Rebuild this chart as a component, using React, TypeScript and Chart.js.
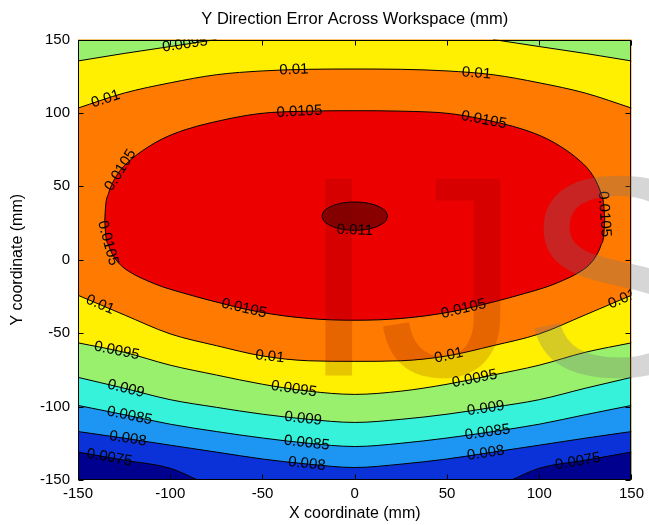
import React, { useEffect, useRef } from 'react';
import { Chart, registerables } from 'chart.js';

Chart.register(...registerables);

// ---------- text ----------
const CHART_TITLE = 'Y Direction Error Across Workspace (mm)';
const X_TITLE = 'X coordinate (mm)';
const Y_TITLE = 'Y coordinate (mm)';
const AXIS_MIN = -150;
const AXIS_MAX = 150;
const TICK_STEP = 50;

// ---------- band colours (jet), lowest band to highest ----------
const COLOR_BELOW_0075 = '#00008F';
const COLOR_0075_0080 = '#0A32D8';
const COLOR_0080_0085 = '#1C96F2';
const COLOR_0085_0090 = '#36F2DA';
const COLOR_0090_0095 = '#98F06C';
const COLOR_0095_0100 = '#FFEF00';
const COLOR_0100_0105 = '#FF7A00';
const COLOR_0105_0110 = '#EC0000';
const COLOR_ABOVE_0110 = '#880000';

// ---------- contour lines (x, y in mm) ----------
const X_GRID = [-150, -125, -100, -75, -50, -25, 0, 25, 50, 75, 100, 125, 150];
const Y_TOP_0100 = [103.3, 113.5, 120.5, 126, 128.6, 129.7, 129.9, 129.7, 128.6, 126, 120.5, 113.5, 103.3];
const Y_TOP_0095 = [135.4, 140.5, 145.2, 150, null, null, null, null, null, 150, 145.2, 140.5, 135.4];
const Y_BOT_0100 = [-24.2, -37.5, -50.5, -58.5, -65.5, -68.8, -69.2, -68.8, -65.5, -58.5, -50.5, -37.5, -24.2];
const Y_BOT_0095 = [-56.6, -63, -71.8, -78.5, -84.8, -89.5, -91.7, -89.5, -84.8, -78.5, -71.8, -63, -56.6];
const Y_BOT_0090 = [-80.1, -87.5, -95.3, -100.5, -105.2, -108.7, -110.8, -108.7, -105.2, -100.5, -95.3, -87.5, -80.1];
const Y_BOT_0085 = [-99.2, -105.5, -112, -117, -121.4, -125, -127.2, -125, -121.4, -117, -112, -105.5, -99.2];
const Y_BOT_0080 = [-117, -121.5, -126.3, -131, -135.7, -139.2, -141.5, -139.2, -135.7, -131, -126.3, -121.5, -117];
const X_0075 = [-150, -125, -100, -85, 0, 85, 100, 125, 150];
const Y_0075 = [-131, -136.5, -142, -150, null, -150, -142, -136.5, -131];

const X_E0105 = [-135.5, -135, -133.5, -131, -127, -121, -113, -104, -92, -79, -52, -25, 0, 25, 52, 79, 92, 104, 113, 121, 127, 131, 133.5, 135, 135.5];
const Y_E0105_TOP = [27, 37, 45, 53, 61, 68.5, 76, 82.5, 88.5, 93, 99.5, 101.2, 101.5, 101.2, 99.5, 93, 88.5, 82.5, 76, 68.5, 61, 53, 45, 37, 27];
const Y_E0105_BOT = [27, 17, 10, 3, -3.5, -9, -14, -18.5, -23, -27.5, -35.5, -40, -41.2, -40, -35.5, -27.5, -23, -18.5, -14, -9, -3.5, 3, 10, 17, 27];

const X_E0110 = [-17.8, -17, -15, -12, -8, -4, 0, 4, 8, 12, 15, 17, 17.8];
const Y_E0110_TOP = [29.7, 32.5, 34.8, 36.8, 38.3, 39.1, 39.3, 39.1, 38.3, 36.8, 34.8, 32.5, 29.7];
const Y_E0110_BOT = [29.7, 26.9, 24.6, 22.6, 21.1, 20.3, 20.1, 20.3, 21.1, 22.6, 24.6, 26.9, 29.7];

// ---------- contour labels: which line, and x (mm) where the label sits ----------
const LABEL_CURVES = [
  'top0095',
  'top0100', 'top0100', 'top0100',
  'e0105top', 'e0105top', 'e0105top', 'e0105top',
  'e0105bot', 'e0105bot', 'e0105bot',
  'e0110bot',
  'bot0100', 'bot0100', 'bot0100', 'bot0100',
  'bot0095', 'bot0095', 'bot0095',
  'bot0090', 'bot0090', 'bot0090',
  'bot0085', 'bot0085', 'bot0085',
  'bot0080', 'bot0080', 'bot0080',
  'c0075', 'c0075',
];
const LABEL_XS = [
  -92,
  -135, -33, 66,
  -30, 70, -127, 135.3,
  -133.8, -60, 59,
  0,
  -138, -46, 51, 145,
  -129, -33, 65,
  -124, -28, 71,
  -122, -26, 72,
  -123, -26, 71,
  -133, 121,
];

type Curve = { level: string; xs: number[]; ys: (number | null)[] };
const CURVES: Record<string, Curve> = {
  top0100: { level: '0.01', xs: X_GRID, ys: Y_TOP_0100 },
  top0095: { level: '0.0095', xs: X_GRID, ys: Y_TOP_0095 },
  bot0100: { level: '0.01', xs: X_GRID, ys: Y_BOT_0100 },
  bot0095: { level: '0.0095', xs: X_GRID, ys: Y_BOT_0095 },
  bot0090: { level: '0.009', xs: X_GRID, ys: Y_BOT_0090 },
  bot0085: { level: '0.0085', xs: X_GRID, ys: Y_BOT_0085 },
  bot0080: { level: '0.008', xs: X_GRID, ys: Y_BOT_0080 },
  c0075: { level: '0.0075', xs: X_0075, ys: Y_0075 },
  e0105top: { level: '0.0105', xs: X_E0105, ys: Y_E0105_TOP },
  e0105bot: { level: '0.0105', xs: X_E0105, ys: Y_E0105_BOT },
  e0110top: { level: '0.011', xs: X_E0110, ys: Y_E0110_TOP },
  e0110bot: { level: '0.011', xs: X_E0110, ys: Y_E0110_BOT },
};

const FONT = '"Liberation Sans", Arial, Helvetica, sans-serif';

function contourDataset(key: string, fill: any, color: string) {
  const c = CURVES[key];
  return {
    data: c.xs.map((x, i) => ({ x, y: c.ys[i] })),
    showLine: true,
    pointRadius: 0,
    pointHoverRadius: 0,
    borderColor: '#000000',
    borderWidth: 1,
    cubicInterpolationMode: 'monotone',
    spanGaps: false,
    fill,
    backgroundColor: color,
  };
}

const backgroundPlugin = {
  id: 'bandBackground',
  beforeDatasetsDraw(chart: any) {
    const { ctx, chartArea: a } = chart;
    ctx.save();
    ctx.fillStyle = COLOR_0100_0105;
    ctx.fillRect(a.left, a.top, a.right - a.left, a.bottom - a.top);
    ctx.restore();
  },
};

const framePlugin = {
  id: 'frameTicks',
  afterDatasetsDraw(chart: any) {
    const { ctx, chartArea: a, scales } = chart;
    const xs = scales.x;
    const ys = scales.y;
    ctx.save();
    ctx.strokeStyle = '#000000';
    ctx.lineWidth = 1;
    const L = Math.round(a.left) + 0.5;
    const R = Math.round(a.right) - 0.5;
    const T = Math.round(a.top) + 0.5;
    const B = Math.round(a.bottom) - 0.5;
    ctx.strokeRect(L, T, R - L, B - T);
    const len = 5;
    ctx.beginPath();
    xs.ticks.forEach((t: any) => {
      const p = Math.round(xs.getPixelForValue(t.value)) + 0.5;
      ctx.moveTo(p, B); ctx.lineTo(p, B - len);
      ctx.moveTo(p, T); ctx.lineTo(p, T + len);
    });
    ys.ticks.forEach((t: any) => {
      const p = Math.round(ys.getPixelForValue(t.value)) + 0.5;
      ctx.moveTo(L, p); ctx.lineTo(L + len, p);
      ctx.moveTo(R, p); ctx.lineTo(R - len, p);
    });
    ctx.stroke();
    ctx.restore();
  },
};

const labelPlugin = {
  id: 'contourLabels',
  afterDatasetsDraw(chart: any) {
    const { ctx, chartArea: a, scales } = chart;
    const xs = scales.x;
    const ys = scales.y;
    ctx.save();
    ctx.beginPath();
    ctx.rect(a.left, a.top, a.right - a.left, a.bottom - a.top);
    ctx.clip();
    ctx.fillStyle = '#000000';
    ctx.font = `15px ${FONT}`;
    ctx.textAlign = 'center';
    ctx.textBaseline = 'middle';
    LABEL_CURVES.forEach((key, k) => {
      const c = CURVES[key];
      const lx = LABEL_XS[k];
      for (let i = 0; i < c.xs.length - 1; i++) {
        const x0 = c.xs[i], x1 = c.xs[i + 1];
        const y0 = c.ys[i], y1 = c.ys[i + 1];
        if (y0 == null || y1 == null) continue;
        if (lx < x0 || lx > x1) continue;
        const t = (lx - x0) / (x1 - x0);
        const ly = y0 + t * (y1 - y0);
        const px0 = xs.getPixelForValue(x0), px1 = xs.getPixelForValue(x1);
        const py0 = ys.getPixelForValue(y0), py1 = ys.getPixelForValue(y1);
        const ang = Math.atan2(py1 - py0, px1 - px0);
        ctx.save();
        ctx.translate(xs.getPixelForValue(lx), ys.getPixelForValue(ly));
        ctx.rotate(ang);
        ctx.fillText(c.level, 0, 0);
        ctx.restore();
        break;
      }
    });
    ctx.restore();
  },
};

const watermarkPlugin = {
  id: 'watermark',
  afterDraw(chart: any) {
    const { ctx, chartArea: a } = chart;
    ctx.save();
    ctx.font = `286px ${FONT}`;
    ctx.textAlign = 'left';
    ctx.textBaseline = 'alphabetic';
    const base = a.top + 336;
    let x = a.left + 221;
    ctx.fillStyle = 'rgba(110,0,0,0.17)';
    ctx.fillText('I', x, base);
    x += ctx.measureText('I').width;
    ctx.fillText('J', x, base);
    x += ctx.measureText('J').width;
    ctx.fillStyle = 'rgba(120,120,120,0.3)';
    ctx.fillText('S', x, base);
    ctx.restore();
  },
};

export default function App() {
  const canvasRef = useRef<HTMLCanvasElement | null>(null);

  useEffect(() => {
    if (!canvasRef.current) return;
    Chart.defaults.font.family = FONT;
    Chart.defaults.color = '#000000';

    const datasets = [
      contourDataset('e0110top', false, COLOR_ABOVE_0110),
      contourDataset('e0110bot', '-1', COLOR_ABOVE_0110),
      contourDataset('e0105top', false, COLOR_0105_0110),
      contourDataset('e0105bot', '-1', COLOR_0105_0110),
      contourDataset('c0075', 'start', COLOR_BELOW_0075),
      contourDataset('bot0080', 'start', COLOR_0075_0080),
      contourDataset('bot0085', 'start', COLOR_0080_0085),
      contourDataset('bot0090', 'start', COLOR_0085_0090),
      contourDataset('bot0095', 'start', COLOR_0090_0095),
      contourDataset('bot0100', 'start', COLOR_0095_0100),
      contourDataset('top0095', 'end', COLOR_0090_0095),
      contourDataset('top0100', 'end', COLOR_0095_0100),
    ];

    const chart = new Chart(canvasRef.current, {
      type: 'scatter',
      data: { datasets: datasets as any },
      plugins: [backgroundPlugin, framePlugin, labelPlugin, watermarkPlugin],
      options: {
        animation: false,
        responsive: true,
        maintainAspectRatio: false,
        events: [],
        layout: { padding: { left: 0, right: 15, top: 0, bottom: 0 } },
        plugins: {
          legend: { display: false },
          tooltip: { enabled: false },
          title: {
            display: true,
            text: CHART_TITLE,
            fullSize: false,
            color: '#000000',
            font: { size: 16.5, weight: 'normal', family: FONT },
            padding: { top: 10, bottom: 9.7 },
          },
        },
        scales: {
          x: {
            type: 'linear',
            min: AXIS_MIN,
            max: AXIS_MAX,
            grid: { display: false, drawTicks: false },
            border: { display: false },
            ticks: { stepSize: TICK_STEP, padding: 5, color: '#000000', font: { size: 15, family: FONT } },
            title: { display: true, text: X_TITLE, color: '#000000', font: { size: 16, family: FONT }, padding: { top: 0, bottom: 2 } },
            afterFit: (s: any) => { s.height = 45; },
          },
          y: {
            type: 'linear',
            min: AXIS_MIN,
            max: AXIS_MAX,
            grid: { display: false, drawTicks: false },
            border: { display: false },
            ticks: { stepSize: TICK_STEP, padding: 8, color: '#000000', font: { size: 15, family: FONT } },
            title: { display: true, text: Y_TITLE, color: '#000000', font: { size: 16, family: FONT }, padding: { top: 8.4, bottom: 0 } },
            afterFit: (s: any) => { s.width = 78; },
          },
        },
      } as any,
    });
    return () => chart.destroy();
  }, []);

  return (
    <div style={{ position: 'fixed', left: 0, top: 0, width: 649, height: 525, background: '#ffffff' }}>
      <canvas ref={canvasRef} />
    </div>
  );
}
